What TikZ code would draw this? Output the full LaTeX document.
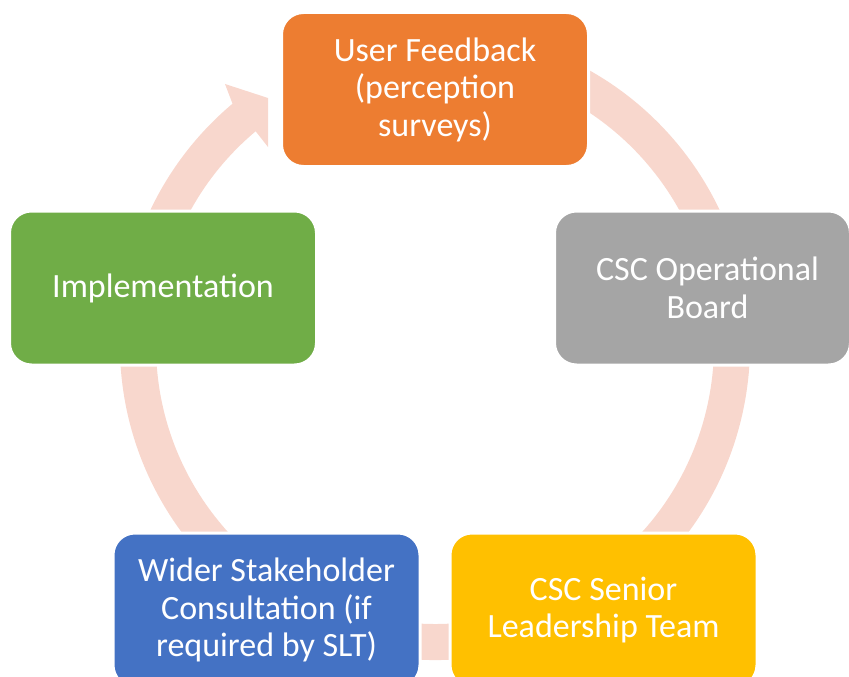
\documentclass[tikz,border=0pt]{standalone}
\usepackage{fontspec}
\setmainfont{Carlito}
\definecolor{ringc}{HTML}{F8D7CD}
\definecolor{orangec}{HTML}{ED7D31}
\definecolor{grayc}{HTML}{A5A5A5}
\definecolor{yellowc}{HTML}{FFC000}
\definecolor{bluec}{HTML}{4472C4}
\definecolor{greenc}{HTML}{70AD47}
\begin{document}
\begin{tikzpicture}[x=1pt,y=-1pt,
  box/.style={draw=white, line width=3pt, rounded corners=22pt,
    minimum width=307pt, minimum height=154pt, inner sep=0pt,
    text=white, align=center, font=\fontsize{34}{37.5}\selectfont}]
\useasboundingbox (0,0) rectangle (849,677);
\coordinate (C) at (435,345);
\coordinate (w1) at (225,84);
\coordinate (tip) at (268,98);
\coordinate (w2) at (268,147);
% circular arrow
\fill[ringc] ([shift={(80:315pt)}]C) arc[start angle=80, end angle=-230, radius=315pt]
  -- (w1) -- (tip) -- (w2)
  -- ([shift={(-230:279pt)}]C) arc[start angle=-230, end angle=80, radius=279pt] -- cycle;
% boxes
\node[box, fill=orangec] (uf) at (435,89.5) {User Feedback\\(perception\\surveys)};
\node[box, fill=grayc, minimum width=296pt] (ob) at (702.5,288) {\hspace*{10pt}CSC Operational\\\hspace*{10pt}Board};
\node[box, fill=yellowc] (slt) at (603.5,610) {CSC Senior\\Leadership Team};
\node[box, fill=bluec] (ws) at (266.5,610) {Wider Stakeholder\\Consultation (if\\required by SLT)};
\node[box, fill=greenc] (im) at (163,288) {Implementation};
\end{tikzpicture}
\end{document}
